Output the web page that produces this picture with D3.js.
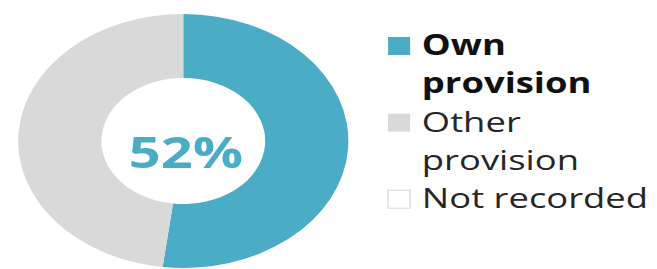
<!DOCTYPE html>
<html>
<head>
<meta charset="utf-8">
<script src="https://cdn.jsdelivr.net/npm/d3@7"></script>
<style>
  html, body { margin: 0; padding: 0; background: #ffffff; }
  svg { display: block; }
</style>
</head>
<body>
<svg id="chart" width="657" height="269"></svg>
<script>
const categories = ["Own provision", "Other provision", "Not recorded"];
const values = [52, 48, 0];
const legendLines = [["Own", "provision"], ["Other", "provision"], ["Not recorded"]];
const centerLabel = "52%";
const colors = ["#4bacc6", "#d9d9d9", "#ffffff"];

const svg = d3.select("#chart");
const stretch = 1.3;
const root = svg.append("g").attr("transform", `scale(${stretch},1)`);

const cx = 141, cy = 141, R = 127, r = 63;

const pie = d3.pie().sort(null).value(d => d.value);
const arcs = pie(categories.map((c, i) => ({ cat: c, value: values[i] })));
const arc = d3.arc().innerRadius(r).outerRadius(R);
const color = d3.scaleOrdinal().domain(categories).range(colors);

const donut = root.append("g").attr("transform", `translate(${cx},${cy})`);
donut.selectAll("path")
  .data(arcs)
  .join("path")
  .attr("d", arc)
  .attr("fill", d => color(d.data.cat));

donut.append("text")
  .attr("x", 2)
  .attr("y", 27)
  .attr("text-anchor", "middle")
  .attr("font-family", "'Open Sans', sans-serif")
  .attr("font-weight", 700)
  .attr("font-size", 43)
  .attr("fill", colors[0])
  .text(centerLabel);

// Legend
const lineH = 38.3;
const firstBase = 55;
const sqX = 298.5, sqW = 17, sqH = 18, textX = 324.5;
const legend = root.append("g");
let line = 0;
categories.forEach((c, i) => {
  const lines = legendLines[i];
  const base = firstBase + line * lineH;
  legend.append("rect")
    .attr("x", sqX)
    .attr("y", base - sqH)
    .attr("width", sqW)
    .attr("height", sqH)
    .attr("fill", colors[i])
    .attr("stroke", i === 2 ? "#d9d9d9" : "none")
    .attr("stroke-width", 1);
  const t = legend.append("text")
    .attr("font-family", "'Open Sans', sans-serif")
    .attr("font-size", 28)
    .attr("font-weight", i === 0 ? 700 : 400)
    .attr("fill", i === 0 ? "#111111" : "#262626");
  lines.forEach((l, j) => {
    t.append("tspan")
      .attr("x", textX)
      .attr("y", base + j * lineH)
      .text(l);
  });
  line += lines.length;
});
</script>
</body>
</html>
